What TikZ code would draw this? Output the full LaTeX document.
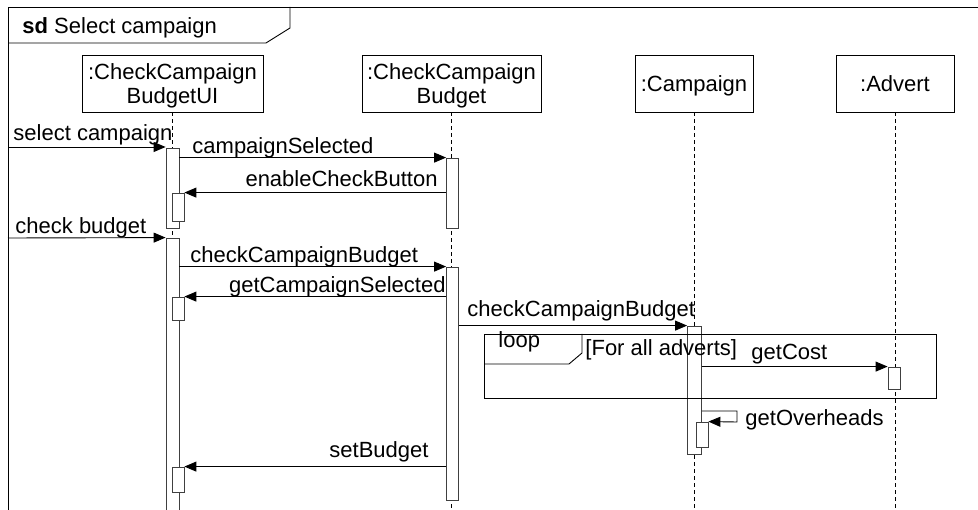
\documentclass[tikz,border=0pt]{standalone}
\usepackage{fontspec}
\setmainfont{Liberation Sans}
\usetikzlibrary{arrows.meta}
\begin{document}
\begin{tikzpicture}[x=1pt,y=-1pt,
  font=\fontsize{22}{23.5}\selectfont,
  line width=0.9pt, draw=black,
  obj/.style={draw, fill=white, minimum height=57pt, align=center, inner sep=0pt, text depth=0pt},
  act/.style={draw=black!75, fill=white, minimum width=12pt, inner sep=0pt, line width=0.8pt},
  msg/.style={-{Triangle[length=12pt,width=10pt]}},
  lifeline/.style={dash pattern=on 4pt off 3pt, line width=0.8pt},
  lbl/.style={anchor=base west, inner sep=0pt}]
\useasboundingbox (0,0) rectangle (978,510);
% frame
\draw (8,520) -- (8,7) -- (990,7);
\draw (8,43) -- (266,43) -- (290,28) -- (290,7);
\node[lbl] (title) at (22,34) {\textbf{sd} Select campaign};
% objects
\node[obj, minimum width=181pt] (ui) at (172.5,83.5) {:CheckCampaign\\BudgetUI};
\node[obj, minimum width=179pt] (ccb) at (451.5,83.5) {:CheckCampaign\\Budget};
\node[obj, minimum width=118pt] (cmp) at (694,83.5) {:Campaign};
\node[obj, minimum width=118pt] (adv) at (895,83.5) {:Advert};
% lifelines
\coordinate (uiE) at (172.5,512);
\coordinate (ccbE) at (451.5,512);
\coordinate (cmpE) at (694,512);
\coordinate (advE) at (895,512);
\draw[lifeline] (ui.south) -- (uiE);
\draw[lifeline] (ccb.south) -- (ccbE);
\draw[lifeline] (cmp.south) -- (cmpE);
\draw[lifeline] (adv.south) -- (advE);
% activations
\node[act, minimum width=13pt, minimum height=80pt] (a1) at (172.5,188) {};
\node[act, minimum height=28pt] (a1n) at (178,207) {};
\node[act, minimum width=13pt, minimum height=282pt] (a2) at (172.5,379) {};
\node[act, minimum height=23pt] (a2n1) at (178,308.5) {};
\node[act, minimum height=25pt] (a2n2) at (178,479.5) {};
\node[act, minimum height=70pt] (b1) at (452.5,193) {};
\node[act, minimum height=233pt] (b2) at (452.5,383.5) {};
\node[act, minimum width=14pt, minimum height=128pt] (c1) at (694.5,390) {};
\node[act, minimum height=25pt] (c1n) at (702,434.5) {};
\node[act, minimum height=22pt] (d1) at (894,378) {};
% loop fragment
\draw (484,334) rectangle (936,398);
\draw (484,364) -- (569,364) -- (582,353) -- (582,334);
\node[lbl] (lloop) at (498,348) {loop};
\node[lbl] (lguard) at (585,356) {[For all adverts]};
% messages
\coordinate (src1) at (8,147);
\coordinate (src2) at (8,238);
\draw[msg] (src1) -- (a1.west |- src1);
\draw[msg] (a1.east |- b1.north) -- (b1.north west);
\draw[msg] (b1.west |- a1n.north) -- (a1n.north east);
\draw[msg] (src2) -- (a2.north west);
\draw[msg] (a2.east |- b2.north) -- (b2.north west);
\draw[msg] (b2.west |- a2n1.north) -- (a2n1.north east);
\draw[msg] (b2.east |- c1.north) -- (c1.north west);
\draw[msg] (c1.east |- d1.north) -- (d1.north west);
\draw[msg] (c1.east |- 0,411) -- (737,411) -- (737,422) -- (c1n.north east);
\draw[msg] (b2.west |- a2n2.north) -- (a2n2.north east);
% message labels
\node[lbl] (l1) at (13,141) {select campaign};
\node[lbl] (l2) at (15,234) {check budget};
\node[lbl] (l3) at (192,154) {campaignSelected};
\node[lbl, anchor=base east] (l4) at (438,187) {enableCheckButton};
\node[lbl] (l5) at (190,263) {checkCampaignBudget};
\node[lbl, anchor=base east] (l6) at (446,293) {getCampaignSelected};
\node[lbl] (l7) at (467,317) {checkCampaignBudget};
\node[lbl] (l10) at (751,360) {getCost};
\node[lbl] (l11) at (745,426) {getOverheads};
\node[lbl, anchor=base east] (l12) at (429,458) {setBudget};
\end{tikzpicture}
\end{document}
